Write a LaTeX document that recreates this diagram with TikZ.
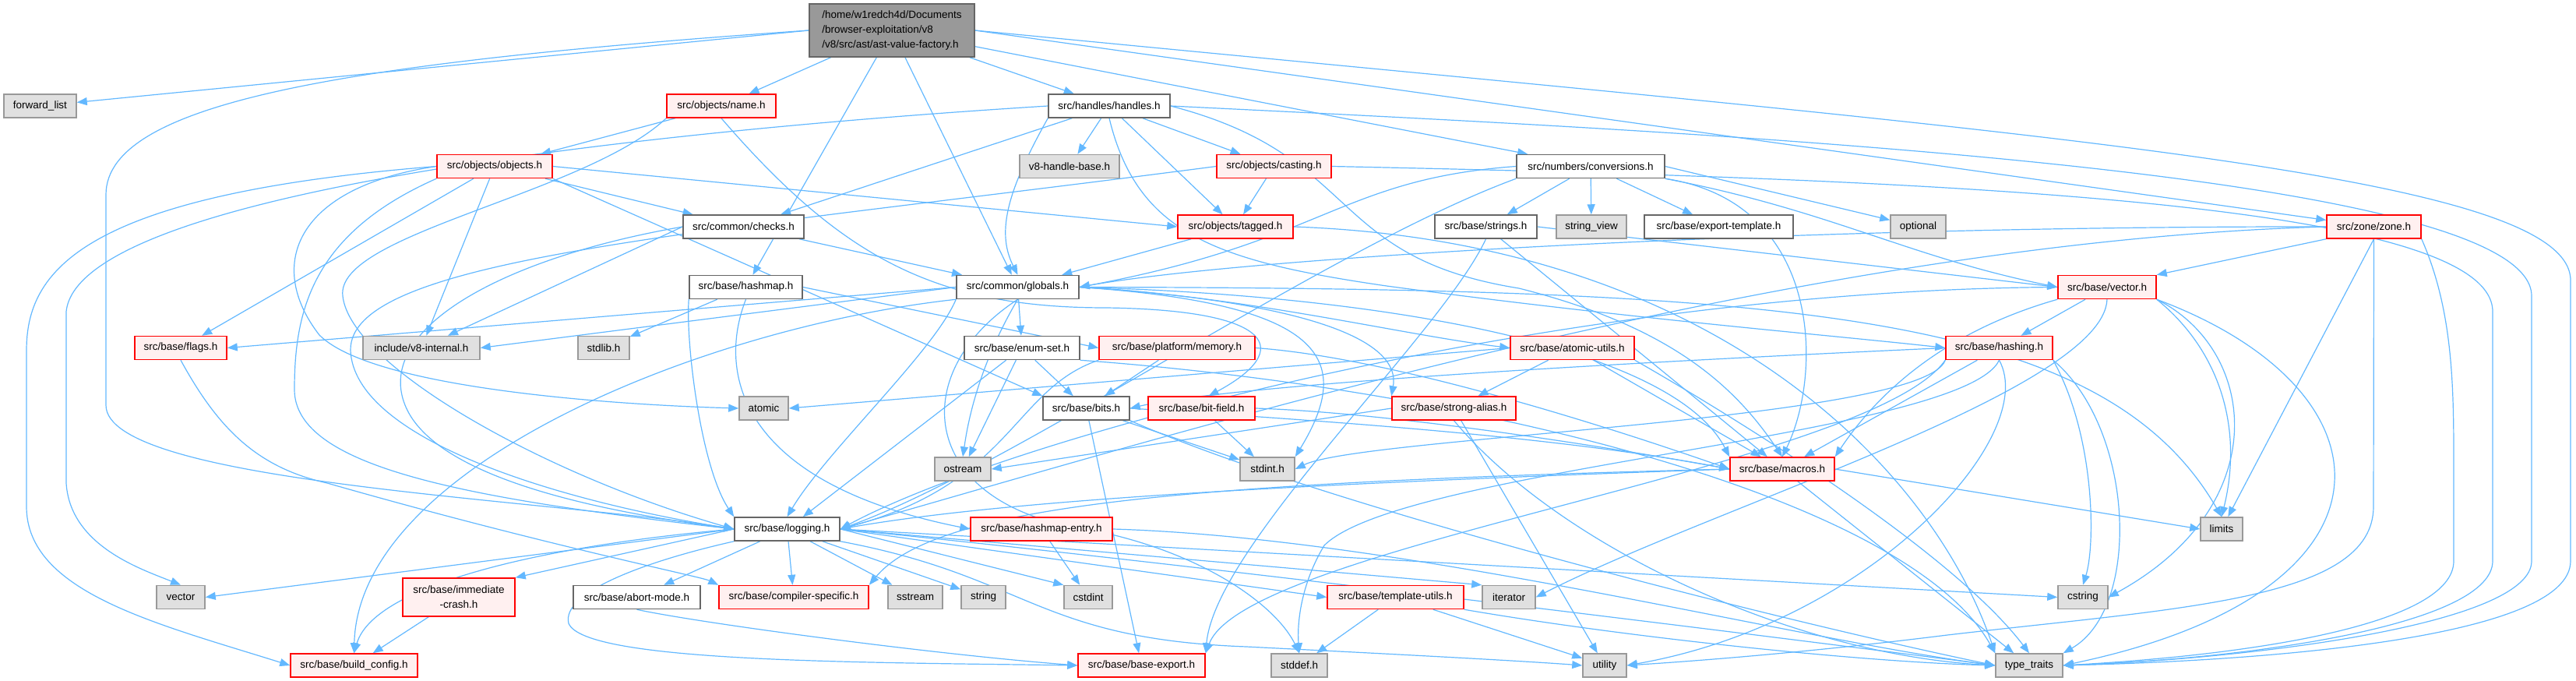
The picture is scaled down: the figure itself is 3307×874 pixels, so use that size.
\documentclass[tikz,border=0pt]{standalone}
\usepackage{fontspec}
\setmainfont{Liberation Sans}
\usetikzlibrary{arrows.meta}
\pgfdeclarelayer{bg}
\pgfsetlayers{bg,main}
\definecolor{edgec}{HTML}{63B8FF}
\definecolor{graybd}{HTML}{999999}
\definecolor{grayfill}{HTML}{E0E0E0}
\definecolor{redbd}{HTML}{FF0000}
\definecolor{redfill}{HTML}{FFF0F0}
\definecolor{whitebd}{HTML}{666666}
\definecolor{rootfill}{HTML}{999999}
\newcommand\gfs{\fontsize{13.5}{19.3}\selectfont}
\tikzset{
  e/.style={draw=edgec, line width=1.2pt, -{Triangle[length=13pt,width=10pt]}},
  nb/.style={rectangle, line width=1.5pt, minimum height=30pt, inner sep=0pt, font=\gfs, text=black},
  gn/.style={nb, draw=graybd, fill=grayfill},
  rn/.style={nb, draw=redbd, fill=redfill},
  wn/.style={nb, draw=whitebd, fill=white},
}
\begin{document}
\begin{tikzpicture}[x=1pt,y=-1pt]
\useasboundingbox (0,0) rectangle (3307,874);
% nodes
\node[nb, draw=whitebd, fill=rootfill, minimum width=212pt, minimum height=68pt, align=left] (root) at (1145,39) {/home/w1redch4d/Documents\\/browser-exploitation/v8\\/v8/src/ast/ast-value-factory.h};
\node[gn, minimum width=93pt] (fl) at (51.5,136) {forward\_list};
\node[rn, minimum width=140pt] (name) at (926,136) {src/objects/name.h};
\node[wn, minimum width=156pt] (handles) at (1424,136) {src/handles/handles.h};
\node[rn, minimum width=148pt] (objects) at (635,213.5) {src/objects/objects.h};
\node[gn, minimum width=128pt] (v8hb) at (1373,213.5) {v8-handle-base.h};
\node[rn, minimum width=147pt] (casting) at (1635.5,213.5) {src/objects/casting.h};
\node[wn, minimum width=190pt] (conv) at (2042,213.5) {src/numbers/conversions.h};
\node[wn, minimum width=155pt] (checks) at (954.5,291) {src/common/checks.h};
\node[rn, minimum width=148pt] (tagged) at (1586,291) {src/objects/tagged.h};
\node[wn, minimum width=131pt] (strings) at (1907.5,291) {src/base/strings.h};
\node[gn, minimum width=90pt] (strview) at (2043,291) {string\_view};
\node[wn, minimum width=191pt] (exptmpl) at (2206.5,291) {src/base/export-template.h};
\node[gn, minimum width=71pt] (optional) at (2462.5,291) {optional};
\node[rn, minimum width=121pt] (zone) at (3047.5,291) {src/zone/zone.h};
\node[wn, minimum width=145pt] (hashmap) at (957.5,368.5) {src/base/hashmap.h};
\node[wn, minimum width=157pt] (globals) at (1306.5,368.5) {src/common/globals.h};
\node[rn, minimum width=126pt] (vectorh) at (2705,368.5) {src/base/vector.h};
\node[rn, minimum width=118pt] (flags) at (232,446.5) {src/base/flags.h};
\node[gn, minimum width=150pt] (v8int) at (541,446.5) {include/v8-internal.h};
\node[gn, minimum width=66pt] (stdlib) at (775,446.5) {stdlib.h};
\node[wn, minimum width=148pt] (enumset) at (1312,446.5) {src/base/enum-set.h};
\node[rn, minimum width=200pt] (memory) at (1511,446.5) {src/base/platform/memory.h};
\node[rn, minimum width=159pt] (atomicutils) at (2018.5,446.5) {src/base/atomic-utils.h};
\node[rn, minimum width=137pt] (hashing) at (2566.5,446.5) {src/base/hashing.h};
\node[gn, minimum width=63pt] (atomic) at (980.5,524) {atomic};
\node[wn, minimum width=111pt] (bits) at (1394.5,524) {src/base/bits.h};
\node[rn, minimum width=137pt] (bitfield) at (1542.5,524) {src/base/bit-field.h};
\node[rn, minimum width=159pt] (strongalias) at (1866.5,524) {src/base/strong-alias.h};
\node[gn, minimum width=72pt] (ostream) at (1236,602) {ostream};
\node[gn, minimum width=70pt] (stdint) at (1627,602) {stdint.h};
\node[rn, minimum width=134pt] (macros) at (2288,602) {src/base/macros.h};
\node[wn, minimum width=135pt] (logging) at (1010.5,679) {src/base/logging.h};
\node[rn, minimum width=182pt] (hmentry) at (1337,679) {src/base/hashmap-entry.h};
\node[gn, minimum width=54pt] (limits) at (2852,679) {limits};
\node[gn, minimum width=62pt] (vector) at (232,766.5) {vector};
\node[rn, minimum width=144pt, minimum height=49pt, align=center] (immcrash) at (589,766.5) {src/base/immediate\\-crash.h};
\node[wn, minimum width=163pt] (abort) at (817.5,766.5) {src/base/abort-mode.h};
\node[rn, minimum width=192pt] (compspec) at (1019,766.5) {src/base/compiler-specific.h};
\node[gn, minimum width=70pt] (sstream) at (1175,766.5) {sstream};
\node[gn, minimum width=57pt] (string) at (1262.5,766.5) {string};
\node[gn, minimum width=62pt] (cstdint) at (1397,766.5) {cstdint};
\node[rn, minimum width=175pt] (templutils) at (1791.5,766.5) {src/base/template-utils.h};
\node[gn, minimum width=68pt] (iterator) at (1937,766.5) {iterator};
\node[gn, minimum width=64pt] (cstring) at (2674,766.5) {cstring};
\node[rn, minimum width=163pt] (buildcfg) at (454.5,854) {src/base/build\_config.h};
\node[rn, minimum width=163pt] (baseexport) at (1465.5,854) {src/base/base-export.h};
\node[gn, minimum width=72pt] (stddef) at (1668,854) {stddef.h};
\node[gn, minimum width=56pt] (utility) at (2060,854) {utility};
\node[gn, minimum width=86pt] (typetraits) at (2605,854) {type\_traits};
% edges
\begin{pgfonlayer}{bg}
% root
\draw[e] (root.west) -- (fl);
\draw[e] (root) -- (name);
\draw[e] (root) -- (handles);
\draw[e] (root) -- (hashmap);
\draw[e] (root) -- (globals);
\draw[e] (root.west) .. controls (450,80) and (136,130) .. (136,250) -- (136,520) .. controls (136,620) and (700,640) .. (logging.west);
\draw[e] (root) -- (conv);
\draw[e] (root.east) -- (zone);
\draw[e] (root.east) .. controls (2600,170) and (3300,220) .. (3300,360) -- (3300,720) .. controls (3300,820) and (2900,848) .. (typetraits.east);
% name
\draw[e] (name) -- (objects);
\draw[e] (name.south west) .. controls (750,250) and (430,300) .. (440,380) .. controls (450,470) and (700,610) .. (logging.west);
\draw[e] (name.south) .. controls (1080,330) and (1200,395) .. (1420,395) .. controls (1640,398) and (1660,450) .. (bitfield.60);
% handles
\draw[e] (handles) -- (v8hb);
\draw[e] (handles) -- (casting);
\draw[e] (handles) -- (tagged);
\draw[e] (handles) -- (checks);
\draw[e] (handles.south west) .. controls (1290,250) and (1280,300) .. (globals.north);
\draw[e] (handles.west) .. controls (800,170) and (100,250) .. (85,400) -- (85,620) .. controls (90,700) and (180,730) .. (vector.north);
\draw[e] (handles.east) .. controls (1750,200) and (1700,330) .. (1950,370) .. controls (2150,420) and (2230,500) .. (macros.north);
\draw[e] (handles.south) .. controls (1460,300) and (1560,335) .. (1780,367) .. controls (2100,410) and (2350,430) .. (hashing.west);
\draw[e] (handles.east) .. controls (2200,170) and (3250,220) .. (3250,380) -- (3250,720) .. controls (3250,800) and (2900,845) .. (typetraits.east);
% objects
\draw[e] (objects) -- (flags);
\draw[e] (objects) -- (v8int);
\draw[e] (objects) -- (checks);
\draw[e] (objects.east) -- (tagged.west);
\draw[e] (objects.west) .. controls (380,240) and (340,340) .. (410,430) .. controls (480,500) and (800,520) .. (atomic.west);
\draw[e] (objects.south west) .. controls (400,300) and (378,400) .. (378,500) .. controls (378,600) and (600,640) .. (logging.west);
\draw[e] (objects.west) .. controls (100,250) and (34,350) .. (34,450) -- (34,650) .. controls (34,760) and (200,800) .. (buildcfg.west);
\draw[e] (objects.south east) -- (bits.north west);
% casting
\draw[e] (casting) -- (tagged);
\draw[e] (casting.east) .. controls (2500,230) and (3200,260) .. (3200,400) -- (3200,720) .. controls (3200,800) and (2900,845) .. (typetraits.east);
\draw[e] (casting.west) .. controls (900,300) and (447,330) .. (450,450) .. controls (455,560) and (700,640) .. (logging.west);
% conv
\draw[e] (conv) -- (strings);
\draw[e] (conv) -- (strview);
\draw[e] (conv) -- (exptmpl);
\draw[e] (conv.east) -- (optional);
\draw[e] (conv.west) .. controls (1720,230) and (1700,310) .. (globals.east);
\draw[e] (conv.south west) .. controls (1700,320) and (1300,600) .. (logging.east);
\draw[e] (conv.south east) .. controls (2340,260) and (2340,480) .. (macros.north);
\draw[e] (conv.south east) .. controls (2350,270) and (2450,330) .. (vectorh.west);
% checks
\draw[e] (checks) -- (globals);
\draw[e] (checks.west) -- (v8int);
\draw[e] (checks.west) .. controls (650,330) and (480,420) .. (520,520) .. controls (560,620) and (800,660) .. (logging.west);
% tagged
\draw[e] (tagged) -- (globals);
\draw[e] (tagged.east) .. controls (2200,310) and (2480,600) .. (typetraits.north west);
% strings
\draw[e] (strings) -- (macros);
\draw[e] (strings.east) -- (vectorh.west);
\draw[e] (strings.south) .. controls (1850,430) and (1560,700) .. (baseexport.north east);
% zone
\draw[e] (zone.west) .. controls (2300,290) and (1600,330) .. (globals.east);
\draw[e] (zone.west) .. controls (2300,310) and (1500,560) .. (logging.east);
\draw[e] (zone.south west) -- (vectorh.north east);
\draw[e] (zone.south) -- (limits);
\draw[e] (zone.south) -- (3047,650) .. controls (3047,770) and (2800,780) .. (2500,815) .. controls (2300,840) and (2150,850) .. (utility.east);
\draw[e] (zone.south east) .. controls (3150,400) and (3150,500) .. (3150,600) -- (3150,720) .. controls (3150,800) and (2900,840) .. (typetraits.east);
% hashmap
\draw[e] (hashmap) -- (stdlib);
\draw[e] (hashmap.south west) .. controls (880,440) and (900,600) .. (logging.north west);
\draw[e] (hashmap.south) .. controls (920,480) and (950,620) .. (hmentry.west);
\draw[e] (hashmap.east) -- (memory.west);
% globals
\draw[e] (globals.west) -- (flags.east);
\draw[e] (globals.west) -- (v8int.east);
\draw[e] (globals) -- (enumset);
\draw[e] (globals.east) .. controls (1600,380) and (1800,430) .. (atomicutils.west);
\draw[e] (globals.east) .. controls (1650,385) and (1800,430) .. (strongalias.north west);
\draw[e] (globals.east) .. controls (1800,380) and (2150,450) .. (macros.north west);
\draw[e] (globals.south west) .. controls (1200,450) and (1060,580) .. (logging.north);
\draw[e] (globals.south west) .. controls (900,420) and (460,600) .. (buildcfg.north);
\draw[e] (globals.south) .. controls (1250,480) and (1240,560) .. (ostream.north);
\draw[e] (globals.south) .. controls (1160,480) and (1180,650) .. (1400,680) .. controls (1550,710) and (1640,780) .. (stddef.north);
\draw[e] (globals.east) .. controls (1700,390) and (1740,460) .. (stdint.north east);
\draw[e] (globals.east) .. controls (2300,370) and (2700,400) .. (limits.north);
% vector.h
\draw[e] (vectorh.west) .. controls (2000,372) and (1300,560) .. (logging.east);
\draw[e] (vectorh) -- (hashing);
\draw[e] (vectorh.south west) .. controls (2480,430) and (2400,520) .. (macros.north east);
\draw[e] (vectorh.south east) .. controls (2850,450) and (2880,550) .. (limits.north);
\draw[e] (vectorh.south east) .. controls (2900,450) and (2920,650) .. (cstring.east);
\draw[e] (vectorh.south east) .. controls (3080,500) and (3100,760) .. (typetraits.east);
\draw[e] (vectorh.south) .. controls (2700,500) and (2200,650) .. (iterator.east);
% flags
\draw[e] (flags.south) .. controls (280,550) and (330,600) .. (420,620) .. controls (700,700) and (900,740) .. (compspec.north west);
% enum-set
\draw[e] (enumset) -- (bits);
\draw[e] (enumset) -- (logging);
\draw[e] (enumset) -- (ostream);
\draw[e] (enumset.south east) .. controls (1900,500) and (2450,640) .. (typetraits.north west);
% memory
\draw[e] (memory) -- (bits);
\draw[e] (memory.south west) .. controls (1300,500) and (1300,620) .. (logging.east);
\draw[e] (memory.east) .. controls (1800,460) and (2100,560) .. (macros.west);
% atomic-utils
\draw[e] (atomicutils.west) -- (atomic.east);
\draw[e] (atomicutils) -- (strongalias);
\draw[e] (atomicutils) -- (macros);
\draw[e] (atomicutils.south east) .. controls (2200,520) and (2500,700) .. (typetraits.north);
% hashing
\draw[e] (hashing.west) .. controls (2200,460) and (1600,490) .. (bits.east);
\draw[e] (hashing) -- (macros);
\draw[e] (hashing.south west) .. controls (2470,540) and (1750,560) .. (stdint.east);
\draw[e] (hashing.south west) .. controls (2400,600) and (1600,700) .. (baseexport.north east);
\draw[e] (hashing.south) .. controls (2520,560) and (1800,600) .. (1700,700) .. controls (1670,750) and (1665,800) .. (stddef.north);
\draw[e] (hashing.south east) .. controls (2690,560) and (2690,700) .. (cstring.north);
\draw[e] (hashing.south east) .. controls (2740,550) and (2750,780) .. (typetraits.north east);
\draw[e] (hashing.south) .. controls (2620,560) and (2400,800) .. (utility.east);
% bits
\draw[e] (bits) -- (stdint);
\draw[e] (bits) -- (baseexport);
\draw[e] (bits.east) .. controls (1700,540) and (2000,560) .. (macros.west);
\draw[e] (bits.south east) .. controls (1700,650) and (2300,800) .. (typetraits.west);
% bit-field
\draw[e] (bitfield) -- (stdint);
\draw[e] (bitfield.east) .. controls (1800,530) and (2100,580) .. (macros.west);
% strong-alias
\draw[e] (strongalias.west) -- (ostream.east);
\draw[e] (strongalias) -- (utility);
\draw[e] (strongalias.south) .. controls (2000,700) and (2300,840) .. (typetraits.west);
% macros
\draw[e] (macros.west) .. controls (1700,620) and (1300,640) .. (logging.east);
\draw[e] (macros.west) .. controls (1500,620) and (1200,650) .. (compspec.north east);
\draw[e] (macros.east) -- (limits.west);
\draw[e] (macros) -- (typetraits);
% logging
\draw[e] (logging.west) -- (vector.east);
\draw[e] (logging.west) -- (immcrash.north east);
\draw[e] (logging) -- (abort);
\draw[e] (logging) -- (compspec);
\draw[e] (logging) -- (sstream);
\draw[e] (logging) -- (string);
\draw[e] (logging.east) -- (cstdint.north west);
\draw[e] (logging.east) -- (iterator.north west);
\draw[e] (logging.east) -- (templutils.west);
\draw[e] (logging.east) -- (cstring.west);
\draw[e] (logging.west) .. controls (700,700) and (480,750) .. (buildcfg.north);
\draw[e] (logging.south west) .. controls (830,720) and (720,760) .. (730,800) .. controls (750,850) and (1100,850) .. (baseexport.west);
\draw[e] (logging.south east) .. controls (1320,740) and (1330,820) .. (1600,830) .. controls (1800,840) and (1950,848) .. (utility.west);
\draw[e] (logging.east) .. controls (1500,720) and (2300,820) .. (typetraits.west);
% hashmap-entry
\draw[e] (hmentry) -- (cstdint);
\draw[e] (hmentry.east) .. controls (1800,690) and (2300,820) .. (typetraits.west);
% others
\draw[e] (immcrash) -- (buildcfg);
\draw[e] (abort.south) .. controls (900,800) and (1200,840) .. (baseexport.west);
\draw[e] (templutils) -- (stddef);
\draw[e] (templutils) -- (utility);
\draw[e] (templutils.south east) .. controls (2100,820) and (2400,850) .. (typetraits.west);
\end{pgfonlayer}
\end{tikzpicture}
\end{document}
